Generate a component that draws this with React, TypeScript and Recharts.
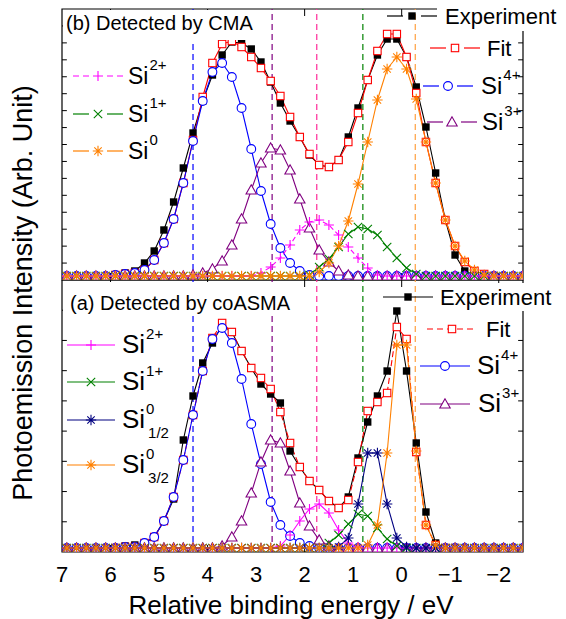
import React from 'react';
import { LineChart, Line, XAxis, YAxis, ReferenceLine, ReferenceArea } from 'recharts';

const FONT = 'Liberation Sans, Arial, sans-serif';
const N = null;

// Relative binding energy grid (eV)
const energy = [
  6.9, 6.7, 6.5, 6.3, 6.1, 5.9, 5.7, 5.5, 5.3, 5.1,
  4.9, 4.7, 4.5, 4.3, 4.1, 3.9, 3.7, 3.5, 3.3, 3.1,
  2.9, 2.7, 2.5, 2.3, 2.1, 1.9, 1.7, 1.5, 1.3, 1.1,
  0.9, 0.7, 0.5, 0.3, 0.1, -0.1, -0.3, -0.5, -0.7, -0.9,
  -1.1, -1.3, -1.5, -1.7, -1.9, -2.1, -2.3, -2.5,
];

// (b) Detected by CMA
const cmaExperiment = [
  N, N, N, N, N, 1, 3, 5, 13, 25,
  46, 74, 108, 143, 175, 201, 221, 234, 233, 227,
  214, 194, 173, 155, 139, 121, 111, 109, 116, 139,
  168, 196, 221, 237, 237, 219, 189, 149, 103, 56,
  21, 5, 1, N, N, N, N, N,
];
const cmaFit = [
  N, N, N, N, N, 1, 2, 3, 6, 16,
  33, 57, 93, 136, 179, 213, 232, 235, 229, 219,
  208, 195, 180, 159, 139, 122, 111, 109, 116, 134,
  163, 196, 225, 242, 242, 219, 183, 134, 93, 56,
  30, 14, 5, 2, 0, N, N, N,
];
const cmaSi4 = [
  0, 0, 0, 0, 0, 1, 2, 3, 6, 16,
  33, 57, 93, 135, 175, 204, 213, 199, 168, 127,
  85, 52, 28, 13, 5, 1, 0, 0, 0, 0,
  0, 0, 0, 0, 0, 0, 0, 0, 0, 0,
  0, 0, 0, 0, 0, 0, 0, 0,
];
const cmaSi3 = [
  0, 0, 0, 0, 0, 0, 0, 0, 0, 0,
  0, 0, 0, 1, 3, 7, 15, 31, 57, 86,
  113, 128, 126, 106, 77, 48, 26, 14, 5, 1,
  0, 0, 0, 0, 0, 0, 0, 0, 0, 0,
  0, 0, 0, 0, 0, 0, 0, 0,
];
const cmaSi2 = [
  0, 0, 0, 0, 0, 0, 0, 0, 0, 0,
  0, 0, 0, 0, 0, 0, 0, 0, 0, 0,
  3, 9, 18, 31, 46, 54, 56, 51, 41, 29,
  18, 8, 1, 0, 0, 0, 0, 0, 0, 0,
  0, 0, 0, 0, 0, 0, 0, 0,
];
const cmaSi1 = [
  0, 0, 0, 0, 0, 0, 0, 0, 0, 0,
  0, 0, 0, 0, 0, 0, 0, 0, 0, 0,
  0, 0, 0, 0, 0, 1, 9, 17, 29, 42,
  49, 47, 41, 29, 18, 8, 2, 0, 0, 0,
  0, 0, 0, 0, 0, 0, 0, 0,
];
const cmaSi0 = [
  0, 0, 0, 0, 0, 0, 0, 0, 0, 0,
  0, 0, 0, 0, 0, 0, 0, 0, 0, 0,
  0, 0, 0, 0, 0, 0, 4, 13, 30, 55,
  92, 134, 176, 207, 219, 207, 177, 134, 93, 56,
  30, 15, 6, 1, 0, 0, 0, 0,
];

// (a) Detected by coASMA
const coExperiment = [
  N, N, N, N, N, 0, 2, 3, 5, 11,
  27, 49, 108, 152, 185, 205, 223, 216, 197, 180,
  164, 154, 145, 97, 81, 67, 58, 47, 40, 51,
  90, 126, 152, 177, 237, 177, 105, 36, 5, 0,
  N, N, N, N, N, N, N, N,
];
const coFit = [
  N, N, N, N, N, 0, 1, 1, 5, 11,
  27, 51, 88, 133, 177, 210, 225, 216, 197, 180,
  170, 159, 136, 105, 81, 67, 58, 47, 40, 48,
  86, 137, 146, 155, 221, 209, 96, 23, 3, 0,
  0, N, N, N, N, N, N, N,
];
const coSi4 = [
  0, 0, 0, 0, 0, 0, 1, 1, 5, 11,
  27, 51, 88, 133, 177, 209, 220, 205, 169, 124,
  84, 46, 23, 12, 5, 2, 0, 0, 0, 0,
  0, 0, 0, 0, 0, 0, 0, 0, 0, 0,
  0, 0, 0, 0, 0, 0, 0, 0,
];
const coSi3 = [
  0, 0, 0, 0, 0, 0, 0, 0, 0, 0,
  0, 0, 0, 0, 0, 0, 2, 11, 27, 55,
  86, 108, 105, 77, 45, 22, 8, 2, 0, 0,
  0, 0, 0, 0, 0, 0, 0, 0, 0, 0,
  0, 0, 0, 0, 0, 0, 0, 0,
];
const coSi2 = [
  0, 0, 0, 0, 0, 0, 0, 0, 0, 0,
  0, 0, 0, 0, 0, 0, 0, 0, 0, 0,
  0, 0, 2, 13, 27, 39, 44, 35, 18, 5,
  1, 0, 0, 0, 0, 0, 0, 0, 0, 0,
  0, 0, 0, 0, 0, 0, 0, 0,
];
const coSi1 = [
  0, 0, 0, 0, 0, 0, 0, 0, 0, 0,
  0, 0, 0, 0, 0, 0, 0, 0, 0, 0,
  0, 0, 0, 0, 0, 0, 0, 5, 13, 24,
  34, 32, 20, 9, 2, 0, 0, 0, 0, 0,
  0, 0, 0, 0, 0, 0, 0, 0,
];
const coSi0Half = [
  0, 0, 0, 0, 0, 0, 0, 0, 0, 0,
  0, 0, 0, 0, 0, 0, 0, 0, 0, 0,
  0, 0, 0, 0, 0, 0, 0, 0, 1, 10,
  44, 95, 95, 44, 10, 1, 0, 0, 0, 0,
  0, 0, 0, 0, 0, 0, 0, 0,
];
const coSi0ThreeHalf = [
  0, 0, 0, 0, 0, 0, 0, 0, 0, 0,
  0, 0, 0, 0, 0, 0, 0, 0, 0, 0,
  0, 0, 0, 0, 0, 0, 0, 0, 0, 0,
  0, 3, 23, 95, 203, 203, 97, 23, 3, 0,
  0, 0, 0, 0, 0, 0, 0, 0,
];

const xTickLabels = [7, 6, 5, 4, 3, 2, 1, 0, -1, -2];
const xMajorTicks = [6, 4, 2, 0, -2];
const refEnergies = [4.3, 2.67, 1.75, 0.8, -0.28];
const refColors = ['#0000ff', '#800080', '#ff2a9a', '#008000', '#ffa040'];

const X_DOMAIN: [number, number] = [-2.5, 7];

type Kind = 'fsq' | 'osq' | 'circle' | 'tri' | 'plus' | 'cross' | 'star';

function Marker({ kind, cx, cy, color }: { kind: Kind; cx: number; cy: number; color: string }) {
  const sw = 1.1;
  switch (kind) {
    case 'fsq':
      return <rect x={cx - 3.7} y={cy - 3.7} width={7.4} height={7.4} fill={color} />;
    case 'osq':
      return <rect x={cx - 3.7} y={cy - 3.7} width={7.4} height={7.4} fill="#fff" stroke={color} strokeWidth={sw} />;
    case 'circle':
      return <circle cx={cx} cy={cy} r={4.4} fill="#fff" stroke={color} strokeWidth={sw} />;
    case 'tri':
      return (
        <polygon
          points={`${cx},${cy - 5.2} ${cx - 5.2},${cy + 4} ${cx + 5.2},${cy + 4}`}
          fill="#fff"
          stroke={color}
          strokeWidth={sw}
        />
      );
    case 'plus':
      return <path d={`M${cx - 5},${cy}H${cx + 5}M${cx},${cy - 5}V${cy + 5}`} stroke={color} strokeWidth={sw} fill="none" />;
    case 'cross':
      return (
        <path
          d={`M${cx - 4.2},${cy - 4.2}L${cx + 4.2},${cy + 4.2}M${cx - 4.2},${cy + 4.2}L${cx + 4.2},${cy - 4.2}`}
          stroke={color}
          strokeWidth={sw}
          fill="none"
        />
      );
    case 'star':
    default:
      return (
        <path
          d={`M${cx - 5.2},${cy}H${cx + 5.2}M${cx},${cy - 5.2}V${cy + 5.2}M${cx - 3.7},${cy - 3.7}L${cx + 3.7},${cy + 3.7}M${cx - 3.7},${cy + 3.7}L${cx + 3.7},${cy - 3.7}`}
          stroke={color}
          strokeWidth={sw}
          fill="none"
        />
      );
  }
}

const dotFn = (kind: Kind, color: string) => (p: any) => {
  const { cx, cy, index } = p;
  const v = p.value;
  if (cx == null || cy == null || Number.isNaN(cy) || v == null) return <g key={`d${index}`} />;
  return (
    <g key={`d${index}`}>
      <Marker kind={kind} cx={cx} cy={cy} color={color} />
    </g>
  );
};

type Series = { key: string; values: (number | null)[]; color: string; kind: Kind; dash?: string };

const cmaSeries: Series[] = [
  { key: 'exp', values: cmaExperiment, color: '#000000', kind: 'fsq' },
  { key: 'fit', values: cmaFit, color: '#ff0000', kind: 'osq' },
  { key: 'si4', values: cmaSi4, color: '#0000ff', kind: 'circle' },
  { key: 'si3', values: cmaSi3, color: '#800080', kind: 'tri' },
  { key: 'si2', values: cmaSi2, color: '#ff00ff', kind: 'plus', dash: '5 3' },
  { key: 'si1', values: cmaSi1, color: '#008000', kind: 'cross' },
  { key: 'si0', values: cmaSi0, color: '#ff8000', kind: 'star' },
];

const coSeries: Series[] = [
  { key: 'exp', values: coExperiment, color: '#000000', kind: 'fsq' },
  { key: 'fit', values: coFit, color: '#ff0000', kind: 'osq', dash: '6 3' },
  { key: 'si4', values: coSi4, color: '#0000ff', kind: 'circle' },
  { key: 'si3', values: coSi3, color: '#800080', kind: 'tri' },
  { key: 'si2', values: coSi2, color: '#ff00ff', kind: 'plus' },
  { key: 'si1', values: coSi1, color: '#008000', kind: 'cross' },
  { key: 'si0a', values: coSi0Half, color: '#000080', kind: 'star' },
  { key: 'si0b', values: coSi0ThreeHalf, color: '#ff8000', kind: 'star' },
];

const buildRows = (series: Series[]) =>
  energy.map((e, i) => {
    const row: Record<string, number | null> = { e };
    series.forEach((s) => {
      row[s.key] = s.values[i];
    });
    return row;
  });

const fmt = (v: number) => (v < 0 ? `\u2212${-v}` : `${v}`);

function panelDecor(yDomain: [number, number], yTicks: number[]) {
  const [y0, y1] = yDomain;
  const els: React.ReactNode[] = [];
  els.push(
    <ReferenceArea
      key="frame"
      x1={7}
      x2={-2.5}
      y1={y0}
      y2={y1}
      fill="none"
      fillOpacity={0}
      stroke="#000"
      strokeWidth={1.2}
      ifOverflow="visible"
    />
  );
  refEnergies.forEach((x, i) => {
    els.push(
      <ReferenceLine
        key={`ref${i}`}
        x={x}
        stroke={refColors[i]}
        strokeWidth={1.2}
        strokeDasharray="6 4"
        ifOverflow="visible"
      />
    );
  });
  xMajorTicks.forEach((t) => {
    els.push(
      <ReferenceLine key={`xb${t}`} segment={[{ x: t, y: y0 }, { x: t, y: y0 + 7 }]} stroke="#000" strokeWidth={1} ifOverflow="visible" />
    );
    els.push(
      <ReferenceLine key={`xt${t}`} segment={[{ x: t, y: y1 }, { x: t, y: y1 - 7 }]} stroke="#000" strokeWidth={1} ifOverflow="visible" />
    );
  });
  yTicks.forEach((t, i) => {
    els.push(
      <ReferenceLine key={`yl${i}`} segment={[{ x: 7, y: t }, { x: 6.9, y: t }]} stroke="#000" strokeWidth={1} ifOverflow="visible" />
    );
    els.push(
      <ReferenceLine key={`yr${i}`} segment={[{ x: -2.5, y: t }, { x: -2.4, y: t }]} stroke="#000" strokeWidth={1} ifOverflow="visible" />
    );
  });
  return els;
}

function seriesLines(series: Series[]) {
  return series.map((s) => (
    <Line
      key={s.key}
      type="linear"
      dataKey={s.key}
      stroke={s.color}
      strokeWidth={1.1}
      strokeDasharray={s.dash}
      dot={dotFn(s.kind, s.color)}
      activeDot={false}
      connectNulls={false}
      isAnimationActive={false}
    />
  ));
}

const topDomain: [number, number] = [-4, 267];
const botDomain: [number, number] = [-4, 268];
const topYTicks = Array.from({ length: 15 }, (_, k) => topDomain[0] + ((k + 1) * (topDomain[1] - topDomain[0])) / 16);
const botYTicks = Array.from({ length: 8 }, (_, k) => botDomain[0] + ((k + 1) * (botDomain[1] - botDomain[0])) / 9);

type LegendItem = {
  x0: number;
  y: number;
  kind: Kind;
  color: string;
  dash?: string;
  gap?: boolean;
  label: string;
  sup?: string;
  sub?: string;
  textX: number;
  fs: number;
  len?: number;
};

const textStyle = (fs: number): React.CSSProperties => ({ fontFamily: FONT, fontSize: fs });

function LegendEntry({ it }: { it: LegendItem }) {
  const len = it.len ?? 50;
  const mid = it.x0 + len / 2;
  const siW = it.fs * 0.889;
  return (
    <g>
      {it.gap ? (
        <>
          <line x1={it.x0} x2={mid - 9} y1={it.y} y2={it.y} stroke={it.color} strokeWidth={1.2} strokeDasharray={it.dash} />
          <line x1={mid + 9} x2={it.x0 + len} y1={it.y} y2={it.y} stroke={it.color} strokeWidth={1.2} strokeDasharray={it.dash} />
        </>
      ) : (
        <line x1={it.x0} x2={it.x0 + len} y1={it.y} y2={it.y} stroke={it.color} strokeWidth={1.2} strokeDasharray={it.dash} />
      )}
      <Marker kind={it.kind} cx={mid} cy={it.y} color={it.color} />
      <text x={it.textX} y={it.y + 8} style={textStyle(it.fs)} fill="#000">
        {it.label}
      </text>
      {it.sup && (
        <text x={it.textX + siW + 1} y={it.y - 6} style={textStyle(15)} fill="#000">
          {it.sup}
        </text>
      )}
      {it.sub && (
        <text x={it.textX + siW + 3} y={it.y + 18} style={textStyle(15)} fill="#000">
          {it.sub}
        </text>
      )}
    </g>
  );
}

const topLeftLegend: LegendItem[] = [
  { x0: 73, y: 76, kind: 'plus', color: '#ff00ff', dash: '6 4', gap: true, label: 'Si', sup: '2+', textX: 128, fs: 23 },
  { x0: 73, y: 114, kind: 'cross', color: '#008000', gap: true, label: 'Si', sup: '1+', textX: 128, fs: 23 },
  { x0: 73, y: 151, kind: 'star', color: '#ff8000', gap: true, label: 'Si', sup: '0', textX: 128, fs: 23 },
];
const topRightLegend: LegendItem[] = [
  { x0: 387, y: 16, kind: 'fsq', color: '#000000', gap: true, label: 'Experiment', textX: 445, fs: 22 },
  { x0: 430, y: 48, kind: 'osq', color: '#ff0000', gap: true, label: 'Fit', textX: 487, fs: 22 },
  { x0: 423, y: 86, kind: 'circle', color: '#0000ff', gap: true, label: 'Si', sup: '4+', textX: 481, fs: 24 },
  { x0: 427, y: 122, kind: 'tri', color: '#800080', gap: true, label: 'Si', sup: '3+', textX: 482, fs: 24 },
];
const botRightLegend: LegendItem[] = [
  { x0: 383, y: 297, kind: 'fsq', color: '#000000', label: 'Experiment', textX: 440, fs: 22 },
  { x0: 427, y: 329, kind: 'osq', color: '#ff0000', dash: '6 4', label: 'Fit', textX: 486, fs: 22 },
  { x0: 420, y: 366, kind: 'circle', color: '#0000ff', label: 'Si', sup: '4+', textX: 477, fs: 26 },
  { x0: 420, y: 404, kind: 'tri', color: '#800080', label: 'Si', sup: '3+', textX: 478, fs: 26 },
];
const botLeftLegend: LegendItem[] = [
  { x0: 67, y: 345, len: 48, kind: 'plus', color: '#ff00ff', label: 'Si', sup: '2+', textX: 122, fs: 26 },
  { x0: 67, y: 382, len: 48, kind: 'cross', color: '#008000', label: 'Si', sup: '1+', textX: 122, fs: 26 },
  { x0: 67, y: 420, len: 48, kind: 'star', color: '#000080', label: 'Si', sup: '0', sub: '1/2', textX: 122, fs: 26 },
  { x0: 67, y: 465, len: 48, kind: 'star', color: '#ff8000', label: 'Si', sup: '0', sub: '3/2', textX: 122, fs: 26 },
];

export default function App() {
  const topRows = buildRows(cmaSeries);
  const botRows = buildRows(coSeries);
  return (
    <div style={{ position: 'absolute', left: 0, top: 0, width: 566, height: 619, background: '#fff', overflow: 'hidden', fontFamily: FONT }}>
      <div style={{ position: 'absolute', left: 0, top: 0 }}>
        <LineChart width={566} height={290} data={topRows} margin={{ top: 9, right: 43, bottom: 10, left: 62 }}>
          <XAxis type="number" dataKey="e" domain={X_DOMAIN} reversed hide allowDataOverflow />
          <YAxis type="number" domain={topDomain} hide allowDataOverflow />
          {panelDecor(topDomain, topYTicks)}
          {seriesLines(cmaSeries)}
        </LineChart>
      </div>
      <div style={{ position: 'absolute', left: 0, top: 280 }}>
        <LineChart width={566} height={339} data={botRows} margin={{ top: 0, right: 43, bottom: 0, left: 62 }}>
          <XAxis
            type="number"
            dataKey="e"
            domain={X_DOMAIN}
            reversed
            allowDataOverflow
            ticks={xTickLabels}
            interval={0}
            tickFormatter={fmt}
            tickLine={false}
            axisLine={false}
            height={67}
            tickSize={6}
            tickMargin={8}
            tick={{ fontSize: 22, fill: '#000', style: { fontFamily: FONT } }}
          />
          <YAxis type="number" domain={botDomain} hide allowDataOverflow />
          {panelDecor(botDomain, botYTicks)}
          {seriesLines(coSeries)}
        </LineChart>
      </div>
      <svg width={566} height={619} style={{ position: 'absolute', left: 0, top: 0, pointerEvents: 'none' }}>
        <rect x={437} y={0} width={129} height={31} fill="#fff" />
        <rect x={437} y={283} width={129} height={28} fill="#fff" />
        <rect x={63} y={10} width={200} height={30} fill="#fff" />
        <rect x={63} y={282} width={235} height={33} fill="#fff" />
        <text x={66} y={30} style={textStyle(20)} fill="#000">
          (b) Detected by CMA
        </text>
        <text x={70} y={310} style={textStyle(20)} fill="#000">
          (a) Detected by coASMA
        </text>
        {[...topLeftLegend, ...topRightLegend, ...botRightLegend, ...botLeftLegend].map((it, i) => (
          <LegendEntry key={i} it={it} />
        ))}
        <text x={291} y={614} style={textStyle(26)} fill="#000" textAnchor="middle">
          Relative binding energy / eV
        </text>
        <text x={32} y={293} style={textStyle(27)} fill="#000" textAnchor="middle" transform="rotate(-90 32 293)">
          Photoemission Intensity (Arb. Unit)
        </text>
      </svg>
    </div>
  );
}
